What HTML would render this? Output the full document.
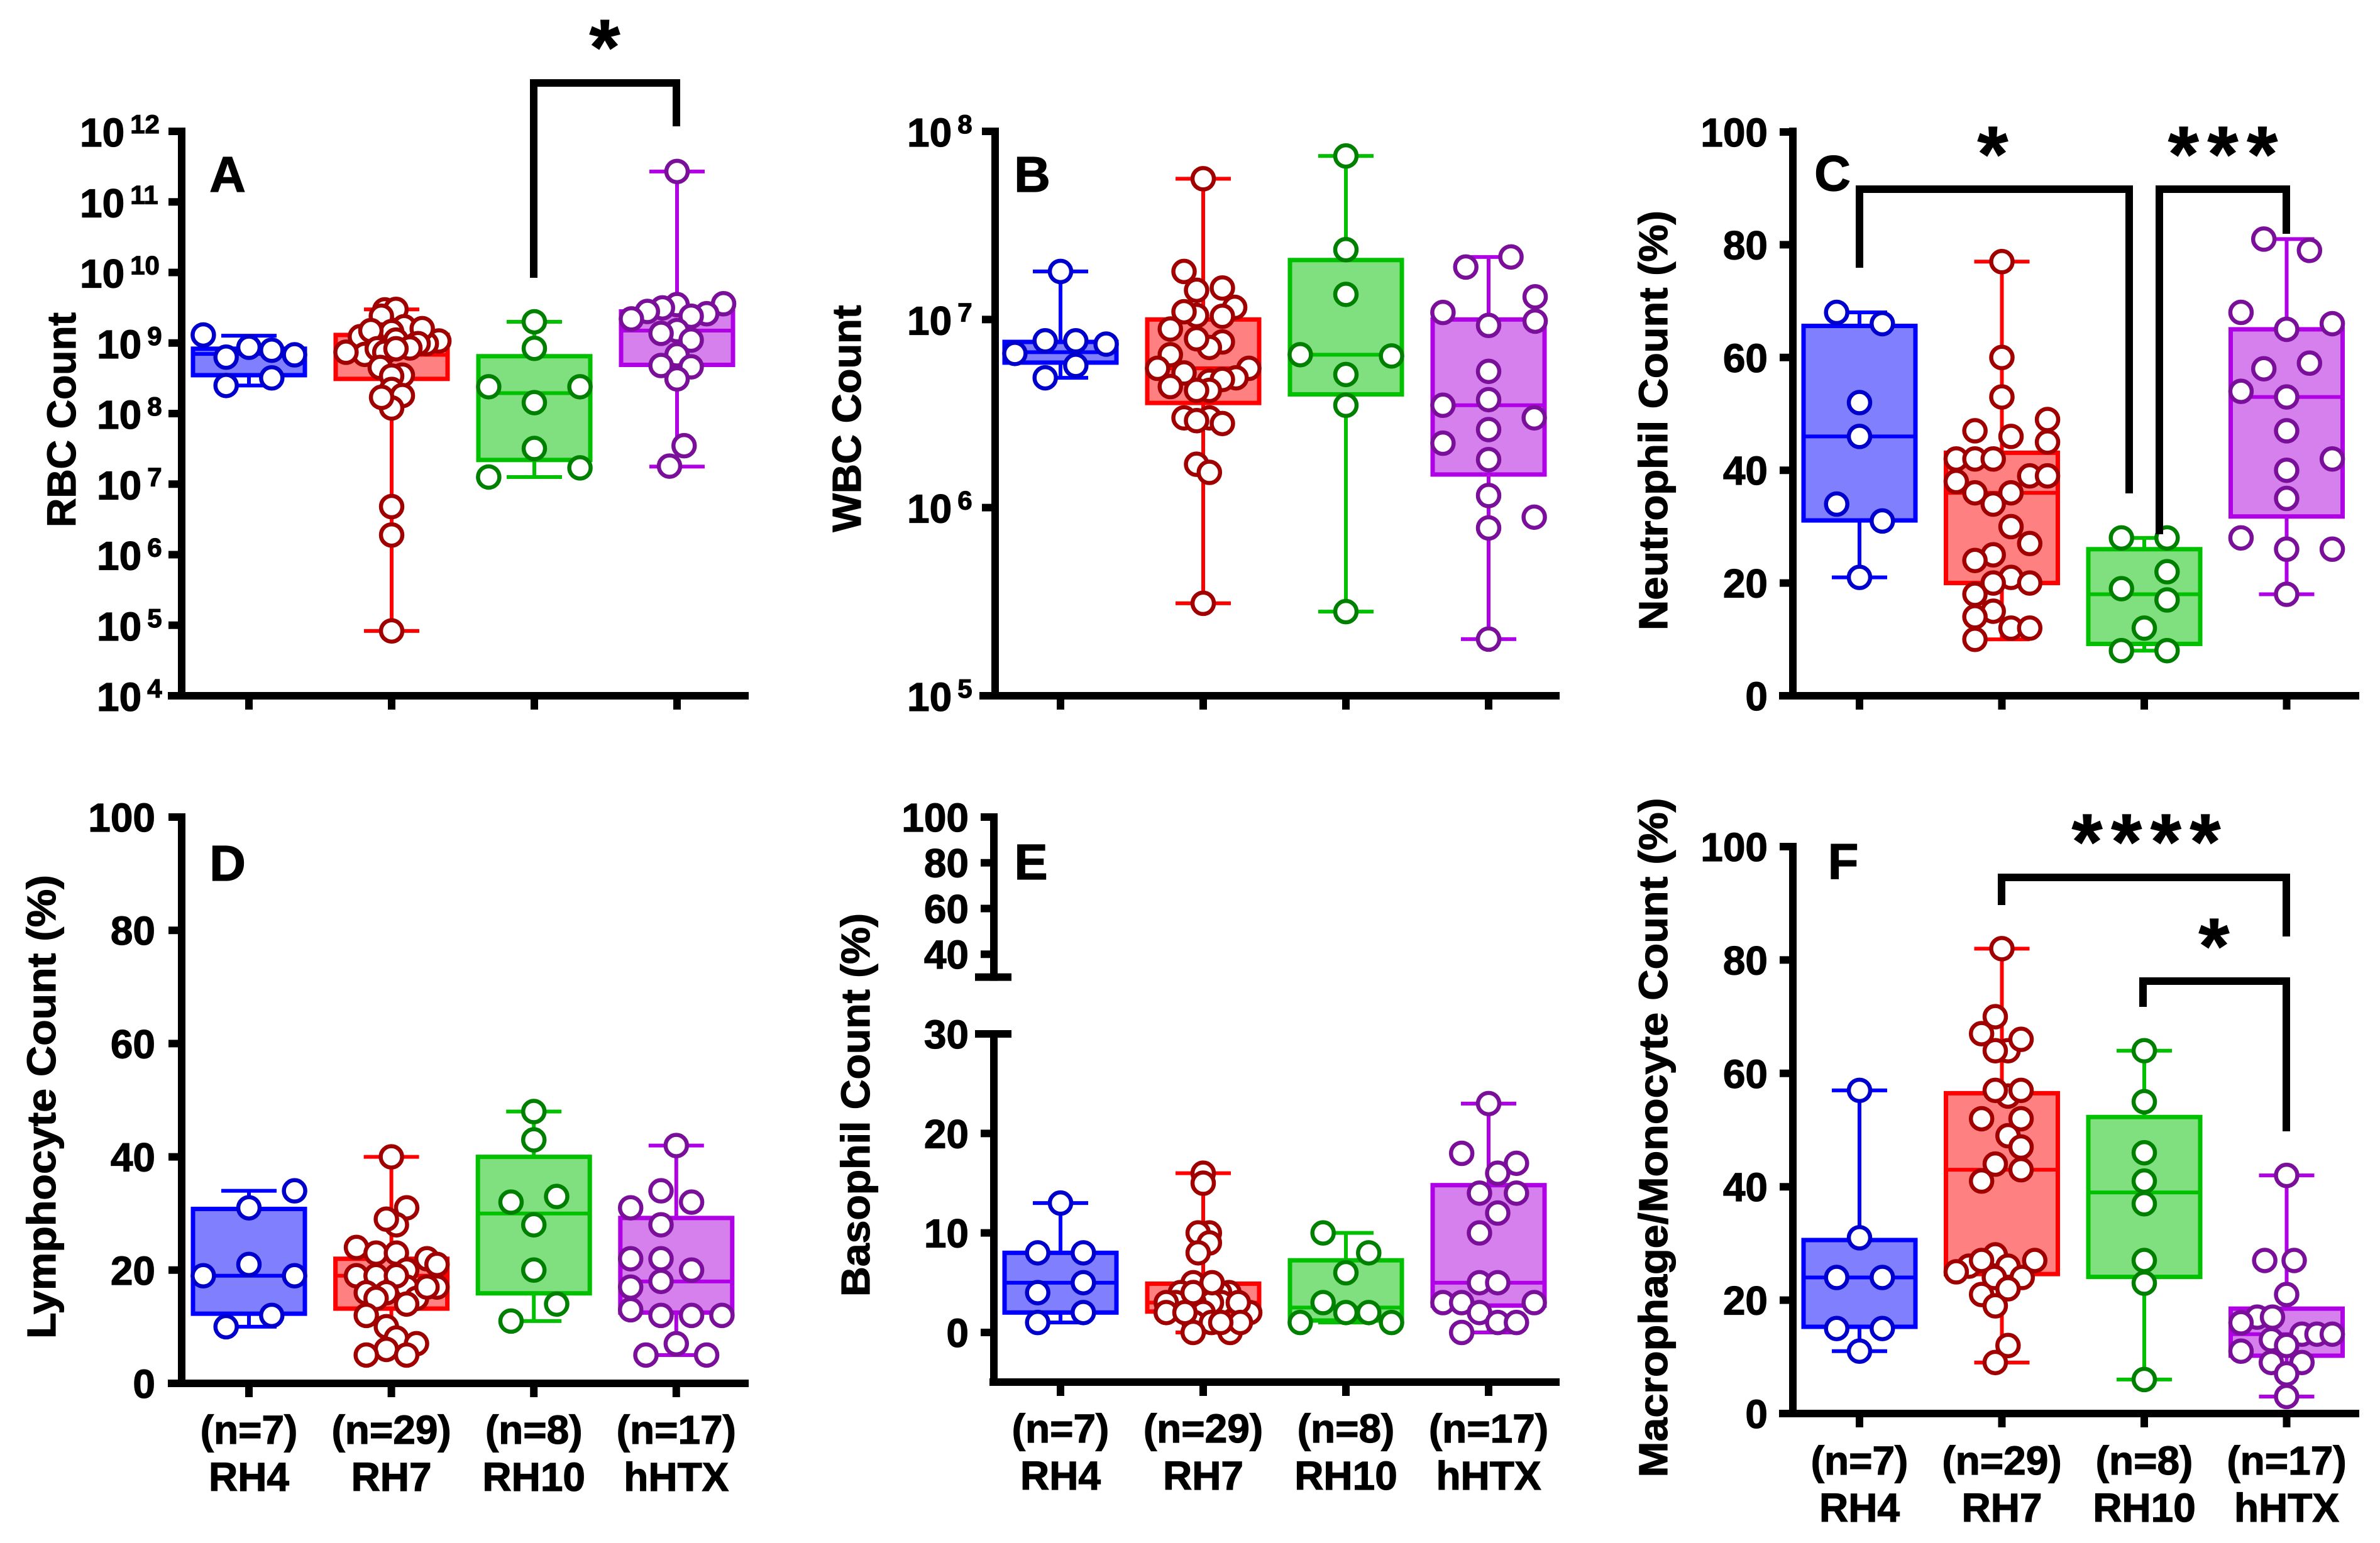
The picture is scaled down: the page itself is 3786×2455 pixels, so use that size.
<!DOCTYPE html>
<html lang="en">
<head>
<meta charset="utf-8">
<title>Cell counts by group</title>
<style>
html,body{margin:0;padding:0;background:#fff}
svg{display:block;font-family:"Liberation Sans",Arial,sans-serif}
text{font-weight:700;fill:#000;stroke:#000;stroke-width:1.2px}
</style>
</head>
<body>
<svg id="figure" xmlns="http://www.w3.org/2000/svg" width="3786" height="2455" viewBox="0 0 3786 2455"></svg>
<script>
const categories = ['RH4', 'RH7', 'RH10', 'hHTX'];
const sampleSizes = [7, 29, 8, 17];
const boxColors = ['#0000ff', '#ff0000', '#00c000', '#b000e6'];
const fillColors = ['#8080ff', '#ff8080', '#80e080', '#d680ee'];
const dotColors = ['#0000cc', '#a00000', '#008000', '#7a0f9a'];

/* Panel A: RBC Count */
const aTicks = [1e12, 1e11, 1e10, 1e9, 1e8, 1e7, 1e6, 1e5, 1e4];
const aRH4 = [1.3e9, 6.3e8, 8.7e8, 7.9e8, 6.8e8, 2.5e8, 3.2e8];
const aRH4Slots = [-2, -1, 0, 1, 2, -1, 1];
const aRH7 = [2.95e9, 3.0e9, 2.4e9, 1.07e9, 9.8e8, 1.7e9, 1.6e9, 1.23e9, 1.3e9, 1.45e9, 1.5e9, 1.1e9, 9.8e8, 8.5e8, 6.9e8, 8.3e8, 7.4e8, 7.4e8, 8.3e8, 3.5e8, 4.5e8, 3.4e8, 2.2e8, 1.8e8, 1.2e8, 1.7e8, 4.8e6, 1.9e6, 8.3e4];
const aRH7Slots = [-0.3, 0.19, -0.45, 2.07, 1.52, 0.55, 1.34, -1.37, -0.45, 0, -0.91, 0.19, 1.16, 0.8, -1.18, -0.63, -0.3, -2, 0.19, 0.47, -0.5, 0, 0, 0.47, 0, -0.44, 0, 0, 0];
const aRH10 = [2e9, 8.4e8, 2.4e8, 2.4e8, 1.43e8, 3.2e7, 1.7e7, 1.26e7];
const aRH10Slots = [0, 0, -2, 2, 0, 0, 2, -2];
const aHTX = [2.7e11, 3.6e9, 3.5e9, 3.15e9, 2.8e9, 2.6e9, 2.4e9, 2.2e9, 1.5e9, 1.37e9, 1.1e9, 6.8e8, 4.8e8, 4.6e8, 3.1e8, 3.5e7, 1.8e7];
const aHTXSlots = [0, 2.04, 0, -0.64, -1.3, 1.3, 0.62, -2, 0, -0.7, 0.62, 0, -0.7, 0.62, 0, 0.31, -0.33];
const aQ1 = [3.5e8, 3.1e8, 2.2e7, 4.9e8];
const aMedian = [7e8, 6.8e8, 1.95e8, 1.5e9];
const aQ3 = [8.3e8, 1.3e9, 6.5e8, 2.8e9];
const aLow = [2.5e8, 8.3e4, 1.26e7, 1.77e7];
const aHigh = [1.27e9, 3e9, 2e9, 2.7e11];

/* Panel B: WBC Count */
const bTicks = [1e8, 1e7, 1e6, 1e5];
const bRH4 = [1.8e7, 7.7e6, 7.7e6, 7.4e6, 6.6e6, 5.7e6, 4.9e6];
const bRH4Slots = [0, -0.67, 0.67, 2, -2, 0.67, -0.67];
const bRH7 = [5.6e7, 1.8e7, 1.43e7, 1.47e7, 1.16e7, 1.05e7, 1.1e7, 1.04e7, 8.9e6, 7.6e6, 7.1e6, 7.9e6, 6.5e6, 5.5e6, 5.2e6, 5.5e6, 4.9e6, 4.7e6, 4.8e6, 4.4e6, 4.2e6, 4.2e6, 3.0e6, 3.0e6, 2.9e6, 2.8e6, 1.7e6, 1.54e6, 3.1e5];
const bRH7Slots = [0, -0.84, -0.29, 0.84, 1.38, -0.29, -0.84, 0.84, -1.44, 0.84, 0.27, -0.29, -1.44, -2, -0.84, 2, 1.44, 0.27, 0.84, -1.44, 0.27, -0.29, 0.27, -0.84, -0.29, 0.84, -0.29, 0.27, 0];
const bRH10 = [7.4e7, 2.35e7, 1.36e7, 6.5e6, 6.4e6, 5.1e6, 3.5e6, 2.8e5];
const bRH10Slots = [0, 0, 0, -2, 2, 0, 0, 0];
const bHTX = [2.15e7, 1.9e7, 1.32e7, 1.09e7, 9.8e6, 9.3e6, 5.3e6, 3.75e6, 3.5e6, 3.0e6, 2.6e6, 2.2e6, 1.8e6, 1.16e6, 8.9e5, 7.8e5, 2.0e5];
const bHTXSlots = [0.98, -1, 2.04, -2, 2.04, 0, 0, 0, -2, 2, 0, -2, 0, 0, 2, 0, 0];
const bQ1 = [5.9e6, 3.6e6, 4.0e6, 1.5e6];
const bMedian = [6.7e6, 5.5e6, 6.5e6, 3.5e6];
const bQ3 = [7.6e6, 1.0e7, 2.07e7, 1.0e7];
const bLow = [4.9e6, 3.1e5, 2.8e5, 2.0e5];
const bHigh = [1.8e7, 5.6e7, 7.4e7, 2.15e7];

/* Panel C: Neutrophil Count */
const cTicks = [0, 20, 40, 60, 80, 100];
const cRH4 = [68, 66, 52, 46, 34, 31, 21];
const cRH4Slots = [-1, 1, 0, 0, -1, 1, 0];
const cRH7 = [77, 60, 53, 49, 47, 46, 45, 42, 42, 42, 39, 39, 38, 36, 36, 34, 30, 27, 25, 24, 21, 20, 20, 18, 15, 14, 12, 12, 10];
const cRH7Slots = [0, 0, 0, 2, -1.18, 0.4, 2, -2, -1.18, -0.38, 1.22, 2, -2, -1.18, 0.4, -0.38, 0.4, 1.22, -0.38, -1.18, 0.4, -0.38, 1.22, -1.18, -0.38, -1.18, 0.4, 1.22, -1.18];
const cRH10 = [28, 28, 22, 19, 17, 12, 8, 8];
const cRH10Slots = [-1, 1, 1, -1, 1, 0, -1, 1];
const cHTX = [81, 79, 68, 66, 65, 59, 58, 54, 53, 47, 42, 40, 35, 28, 26, 26, 18];
const cHTXSlots = [-1, 1, -2, 2, 0, 1, -1, -2, 0, 0, 2, 0, 0, -2, 0, 2, 0];
const cQ1 = [31.1, 20, 9.2, 31.8];
const cMedian = [46, 36, 18, 53];
const cQ3 = [65.6, 43.1, 26, 65];
const cLow = [21, 10, 8, 18];
const cHigh = [68, 77, 28, 81];

/* Panel D: Lymphocyte Count */
const dTicks = [0, 20, 40, 60, 80, 100];
const dRH4 = [34, 31, 21, 19, 19, 12, 10];
const dRH4Slots = [2, 0, 0, -2, 2, 1, -1];
const dRH7 = [40, 31, 28, 29, 24, 23, 23, 22, 20, 21, 17, 17, 19, 19, 19, 17, 16, 16, 15, 15, 14, 12, 10, 8, 7, 6, 5, 5, 17];
const dRH7Slots = [0, 0.67, 0.22, -0.22, -1.53, -0.67, 0.22, 1.56, 0.67, 2, 0.67, -0.67, -1.53, -0.67, 0.22, 2, -1.1, -0.22, 1.1, -0.67, 0.67, -1.1, -0.22, 0.22, 1.1, -0.22, -1.1, 0.67, 1.56];
const dRH10 = [48, 43, 33, 32, 28, 20, 14, 11];
const dRH10Slots = [0, 0, 1, -1, 0, 0, 1, -1];
const dHTX = [42, 34, 32, 31, 28, 22, 22, 20, 18, 17, 13, 12, 12, 12, 7, 5, 5];
const dHTXSlots = [0, -0.67, 0.67, -2, -0.67, -2, -0.67, 0.67, -0.67, -2, -2, -0.67, 0.67, 2, 0, -1.33, 1.33];
const dQ1 = [12.3, 13.2, 15.9, 12.5];
const dMedian = [19, 19, 30, 18];
const dQ3 = [30.8, 22, 40, 29.2];
const dLow = [10, 5, 11, 5];
const dHigh = [34, 40, 48, 42];

/* Panel E: Basophil Count */
const eTicks = [0, 10, 20, 30, 40, 60, 80, 100];
const eRH4 = [13, 8, 8, 5, 4, 2, 1];
const eRH4Slots = [0, -1, 1, 1, -1, 1, -1];
const eRH7 = [16, 15, 10, 10, 9, 8, 5, 4, 4, 4, 3, 3, 3, 3, 2, 2, 1, 1, 0, 0, 3, 4, 3, 1, 2, 2, 5, 4, 1];
const eRH7Slots = [0, 0, 0.27, -0.22, 0.27, -0.22, -0.44, 1.13, 0.72, -1, 0.8, 0.36, -0.4, -1.2, 2.04, 0, -0.4, 0.36, 1.18, -0.44, 1.54, -0.44, -1.62, 1.63, -1.62, -0.8, 0.39, -0.44, 0.77];
const eRH10 = [10, 8, 6, 3, 2, 2, 1, 1];
const eRH10Slots = [-1, 1, 0, -1, 0, 1, -2, 2];
const eHTX = [23, 18, 17, 16, 14, 14, 12, 10, 5, 5, 3, 3, 3, 2, 1, 1, 0];
const eHTXSlots = [0, -1.18, 1.22, 0.4, -0.4, 1.22, 0.4, -0.4, -0.4, 0.4, -2, -1.18, 2, -0.4, 0.4, 1.22, -1.18];
const eQ1 = [2, 2.1, 1.2, 2.7];
const eMedian = [5, 3, 2.5, 5];
const eQ3 = [8, 4.9, 7.25, 14.8];
const eLow = [1, 0, 1, 0];
const eHigh = [13, 16, 10, 23];

/* Panel F: Macrophage/Monocyte Count */
const fTicks = [0, 20, 40, 60, 80, 100];
const fRH4 = [57, 31, 24, 24, 15, 15, 11];
const fRH4Slots = [0, 0, -1, 1, -1, 1, 0];
const fRH7 = [82, 64, 70, 67, 66, 64, 56, 57, 57, 52, 52, 49, 47, 44, 43, 41, 26, 28, 27, 27, 26, 25, 24, 24, 22, 21, 19, 12, 9];
const fRH7Slots = [0, 0.27, -0.29, -0.89, 0.84, -0.29, 0.27, -0.29, 0.84, -0.89, 0.84, 0.27, 0.84, -0.29, 0.84, -0.89, -1.44, -0.29, -0.89, 1.44, 0.27, -2, 0.89, -0.33, 0.27, -0.89, -0.29, 0.27, -0.29];
const fRH10 = [64, 55, 46, 41, 37, 27, 23, 6];
const fRH10Slots = [0, 0, 0, 0, 0, 0, 0, 0];
const fHTX = [42, 27, 27, 21, 17, 17, 16, 14, 14, 14, 13, 12, 11, 9, 9, 7, 3];
const fHTXSlots = [0, -0.96, 0.33, 0, -1.29, -0.62, -2, 0.67, 1.33, 2, -0.67, 0, -2, -0.67, 0.67, 0, 0];
const fQ1 = [15.3, 24.6, 24.1, 10.2];
const fMedian = [24, 43, 39, 14];
const fQ3 = [30.6, 56.5, 52.3, 18.5];
const fLow = [11, 9, 6, 3];
const fHigh = [57, 82, 64, 42];

const SVG_NS = 'http://www.w3.org/2000/svg';
const figure = document.getElementById('figure');
const SLOT_WIDTH = 36.3;

function make(parent, tag, attrs) {
  const node = document.createElementNS(SVG_NS, tag);
  for (const key in attrs) node.setAttribute(key, attrs[key]);
  parent.appendChild(node);
  return node;
}
function logScale(topValue, bottomValue, top, bottom) {
  const a = Math.log10(topValue), b = Math.log10(bottomValue);
  return v => top + (a - Math.log10(v)) / (a - b) * (bottom - top);
}
function linearScale(topValue, bottomValue, top, bottom) {
  return v => top + (topValue - v) / (topValue - bottomValue) * (bottom - top);
}
function brokenScale(v) {
  if (v > 30) return 1554.6 - (v - 30) * (1554.6 - 1300) / 70;
  return 2120 - v * (2120 - 1645) / 30;
}

function drawBoxes(panel, p) {
  categories.forEach((name, i) => {
    const cx = p.x0 + i * p.step;
    const hw = 89, capHw = 44;
    const group = make(panel, 'g', {});
    
    
    const yHi = p.y(p.high[i]), yLo = p.y(p.low[i]);
    const yQ1 = p.y(p.q1[i]), yQ3 = p.y(p.q3[i]), yMed = p.y(p.median[i]);

    const wUp = make(group, 'line', {x1: cx, x2: cx, y1: yQ3, y2: yHi, stroke: boxColors[i], 'stroke-width': 6});
    
    
    const wDown = make(group, 'line', {x1: cx, x2: cx, y1: yQ1, y2: yLo, stroke: boxColors[i], 'stroke-width': 6});
    
    
    const capUp = make(group, 'line', {x1: cx - capHw, x2: cx + capHw, y1: yHi, y2: yHi, stroke: boxColors[i], 'stroke-width': 6});
    
    
    const capDown = make(group, 'line', {x1: cx - capHw, x2: cx + capHw, y1: yLo, y2: yLo, stroke: boxColors[i], 'stroke-width': 6});
    
    
    const rect = make(group, 'rect', {x: cx - hw, y: yQ3, width: hw * 2, height: yQ1 - yQ3, fill: fillColors[i], stroke: boxColors[i], 'stroke-width': 7});
    
    
    const med = make(group, 'line', {x1: cx - hw, x2: cx + hw, y1: yMed, y2: yMed, stroke: boxColors[i], 'stroke-width': 6});
    
    

    p.values[i].forEach((v, k) => {
      const dot = make(group, 'circle', {cx: cx + p.slots[i][k] * SLOT_WIDTH, cy: p.y(v), r: 17, fill: '#fff', stroke: dotColors[i], 'stroke-width': 6.5});
      
      
    });
  });
}

function drawAxes(panel, p) {
  const segments = p.segments || [[p.top, p.bottom]];
  segments.forEach(seg => {
    const line = make(panel, 'line', {x1: p.axisX, x2: p.axisX, y1: seg[0] - 6, y2: seg[1] + 6, stroke: '#000', 'stroke-width': 12});
    
    
  });
  const xAxis = make(panel, 'line', {x1: p.xStart, x2: p.xEnd, y1: p.bottom, y2: p.bottom, stroke: '#000', 'stroke-width': 12});
  
  

  p.ticks.forEach(v => {
    const ty = p.y(v);
    const wide = p.segments && v === 30;
    const tick = make(panel, 'line', {x1: p.axisX - (wide ? 30 : 21), x2: p.axisX + (wide ? 28 : 0), y1: ty, y2: ty, stroke: '#000', 'stroke-width': 12});
    
    
    if (p.log) {
      const exponent = Math.round(Math.log10(v));
      const startX = p.logLabelX(exponent);
      const label = make(panel, 'text', {x: startX, y: ty + 24, 'font-size': 64});
      
      
      const base = make(label, 'tspan', {});
      base.textContent = '10';
      const sup = make(label, 'tspan', {dx: 9, dy: -21, 'font-size': 42});
      sup.textContent = String(exponent);
    } else {
      const label = make(panel, 'text', {x: p.labelRight, y: ty + 23, 'font-size': 64, 'text-anchor': 'end'});
      
      
      label.textContent = String(v);
    }
  });
  if (p.segments) {
    const breakEnd = make(panel, 'line', {x1: p.axisX - 30, x2: p.axisX + 28, y1: 1554.6, y2: 1554.6, stroke: '#000', 'stroke-width': 12});
    
    
  }
  categories.forEach((name, i) => {
    const cx = p.x0 + i * p.step;
    const tick = make(panel, 'line', {x1: cx, x2: cx, y1: p.bottom, y2: p.bottom + 22, stroke: '#000', 'stroke-width': 12});
    
    
    if (p.labelY) {
      const nLabel = make(panel, 'text', {x: cx, y: p.labelY, 'font-size': 64, 'text-anchor': 'middle'});
      
      
      nLabel.textContent = '(n=' + sampleSizes[i] + ')';
      const catLabel = make(panel, 'text', {x: cx, y: p.labelY + 75, 'font-size': 64, 'text-anchor': 'middle'});
      
      
      catLabel.textContent = name;
    }
  });
  const tx = p.titleX, ty = p.titleY;
  const title = make(panel, 'text', {x: tx, y: ty, 'font-size': 64, 'text-anchor': 'middle', transform: 'rotate(-90 ' + tx + ' ' + ty + ')', textLength: p.titleLength, lengthAdjust: 'spacingAndGlyphs'});
  
  
  title.textContent = p.title;
  const letter = make(panel, 'text', {x: p.letterX, y: p.letterY, 'font-size': 80, 'text-anchor': 'middle'});
  
  
  letter.textContent = p.letter;
}

function drawBracket(panel, x1, y1, yTop, x2, y2) {
  const bracket = make(panel, 'polyline', {points: [x1, y1, x1, yTop, x2, yTop, x2, y2].join(' '), fill: 'none', stroke: '#000', 'stroke-width': 12, 'stroke-linejoin': 'miter'});
  
  
}
function drawStars(panel, cx, cy, stars) {
  const fs = 125, spacing = 14;
  const mark = make(panel, 'text', {x: cx + spacing / 2, y: cy + fs * 0.49, 'font-size': fs, 'text-anchor': 'middle', 'letter-spacing': spacing});
  
  
  mark.textContent = stars;
}
function newPanel(name) {
  const panel = make(figure, 'g', {});
  
  
  return panel;
}

const panelA = newPanel('panel-a-rbc-count');
const configA = {letter: 'A', letterX: 362, letterY: 305, title: 'RBC Count', titleX: 120, titleY: 668, titleLength: 342,
  axisX: 289, top: 209, bottom: 1107, xStart: 267, xEnd: 1191, x0: 396, step: 227,
  y: logScale(1e12, 1e4, 209, 1107), log: true, logLabelX: e => (e >= 10 ? 127 : 154), ticks: aTicks,
  values: [aRH4, aRH7, aRH10, aHTX], slots: [aRH4Slots, aRH7Slots, aRH10Slots, aHTXSlots],
  q1: aQ1, median: aMedian, q3: aQ3, low: aLow, high: aHigh};
drawBoxes(panelA, configA);
drawAxes(panelA, configA);
drawBracket(panelA, 849, 442, 132, 1076, 201);
drawStars(panelA, 962, 57, '*');

const panelB = newPanel('panel-b-wbc-count');
const configB = {letter: 'B', letterX: 1642, letterY: 305, title: 'WBC Count', titleX: 1369, titleY: 666, titleLength: 361,
  axisX: 1583, top: 209, bottom: 1107, xStart: 1558, xEnd: 2481, x0: 1687, step: 227,
  y: logScale(1e8, 1e5, 209, 1107), log: true, logLabelX: () => 1443, ticks: bTicks,
  values: [bRH4, bRH7, bRH10, bHTX], slots: [bRH4Slots, bRH7Slots, bRH10Slots, bHTXSlots],
  q1: bQ1, median: bMedian, q3: bQ3, low: bLow, high: bHigh};
drawBoxes(panelB, configB);
drawAxes(panelB, configB);

const panelC = newPanel('panel-c-neutrophil-count');
const configC = {letter: 'C', letterX: 2915, letterY: 303, title: 'Neutrophil Count (%)', titleX: 2652, titleY: 669, titleLength: 668,
  axisX: 2852, top: 209, bottom: 1107, xStart: 2830, xEnd: 3753, x0: 2958, step: 226.5,
  y: linearScale(100, 0, 210, 1107), labelRight: 2812, ticks: cTicks,
  values: [cRH4, cRH7, cRH10, cHTX], slots: [cRH4Slots, cRH7Slots, cRH10Slots, cHTXSlots],
  q1: cQ1, median: cMedian, q3: cQ3, low: cLow, high: cHigh};
drawBoxes(panelC, configC);
drawAxes(panelC, configC);
drawBracket(panelC, 2958, 426, 301, 3387, 785);
drawBracket(panelC, 3435, 850, 301, 3637, 372);
drawStars(panelC, 3170, 227, '*');
drawStars(panelC, 3536, 227, '***');

const panelD = newPanel('panel-d-lymphocyte-count');
const configD = {letter: 'D', letterX: 362, letterY: 1401, title: 'Lymphocyte Count (%)', titleX: 88, titleY: 1761, titleLength: 738,
  axisX: 289, top: 1300, bottom: 2201, xStart: 267, xEnd: 1191, x0: 396, step: 226.6,
  y: linearScale(100, 0, 1300, 2201), labelRight: 247, ticks: dTicks, labelY: 2297,
  values: [dRH4, dRH7, dRH10, dHTX], slots: [dRH4Slots, dRH7Slots, dRH10Slots, dHTXSlots],
  q1: dQ1, median: dMedian, q3: dQ3, low: dLow, high: dHigh};
drawBoxes(panelD, configD);
drawAxes(panelD, configD);

const panelE = newPanel('panel-e-basophil-count');
const configE = {letter: 'E', letterX: 1640, letterY: 1399, title: 'Basophil Count (%)', titleX: 1383, titleY: 1758, titleLength: 610,
  axisX: 1581, top: 1300, bottom: 2199, xStart: 1574, xEnd: 2481, x0: 1687, step: 227,
  y: brokenScale, segments: [[1300, 1554.6], [1645, 2199]], labelRight: 1541, ticks: eTicks, labelY: 2295,
  values: [eRH4, eRH7, eRH10, eHTX], slots: [eRH4Slots, eRH7Slots, eRH10Slots, eHTXSlots],
  q1: eQ1, median: eMedian, q3: eQ3, low: eLow, high: eHigh};
drawBoxes(panelE, configE);
drawAxes(panelE, configE);

const panelF = newPanel('panel-f-macrophage-monocyte-count');
const configF = {letter: 'F', letterX: 2932, letterY: 1398, title: 'Macrophage/Monocyte Count (%)', titleX: 2652, titleY: 1810, titleLength: 1081,
  axisX: 2852, top: 1347, bottom: 2249, xStart: 2830, xEnd: 3753, x0: 2958, step: 226.5,
  y: linearScale(100, 0, 1347, 2249), labelRight: 2812, ticks: fTicks, labelY: 2346,
  values: [fRH4, fRH7, fRH10, fHTX], slots: [fRH4Slots, fRH7Slots, fRH10Slots, fHTXSlots],
  q1: fQ1, median: fMedian, q3: fQ3, low: fLow, high: fHigh};
drawBoxes(panelF, configF);
drawAxes(panelF, configF);
drawBracket(panelF, 3184, 1440, 1396, 3637, 1490);
drawBracket(panelF, 3409, 1602, 1561, 3637, 1800);
drawStars(panelF, 3414, 1321, '****');
drawStars(panelF, 3522, 1487, '*');
</script>
</body>
</html>
